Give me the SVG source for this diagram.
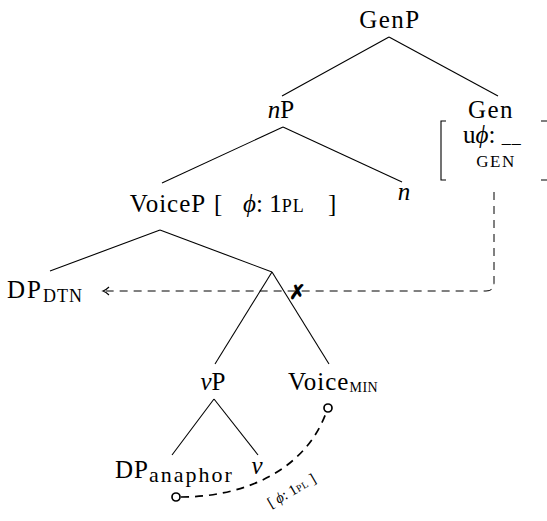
<svg xmlns="http://www.w3.org/2000/svg" width="547" height="521" viewBox="0 0 547 521">
<style>
  text { font-family: "Liberation Serif", "DejaVu Serif", serif; fill: #000; }
  .lbl { font-size: 25px; }
  .it { font-style: italic; }
  .edge { stroke: #000; stroke-width: 1.1; fill: none; }
  .dash { stroke: #000; stroke-width: 1; fill: none; stroke-dasharray: 8 6; }
  .dashb { stroke: #000; stroke-width: 1.7; fill: none; stroke-dasharray: 8 6; }
  .brk { stroke: #000; stroke-width: 1.1; fill: none; }
</style>
<rect width="547" height="521" fill="#fff"/>

<g id="edges">
  <line class="edge" x1="389" y1="37" x2="282" y2="96"/>
  <line class="edge" x1="389" y1="37" x2="498" y2="96"/>
  <line class="edge" x1="283" y1="127" x2="162" y2="183"/>
  <line class="edge" x1="283" y1="127" x2="402" y2="182"/>
  <line class="edge" x1="160" y1="230" x2="50" y2="271"/>
  <line class="edge" x1="160" y1="230" x2="272" y2="272"/>
  <line class="edge" x1="272" y1="272" x2="215" y2="364"/>
  <line class="edge" x1="272" y1="272" x2="329" y2="364"/>
  <line class="edge" x1="214" y1="399" x2="172" y2="455"/>
  <line class="edge" x1="214" y1="399" x2="258" y2="455"/>
  <path class="dash" d="M494 192 V283 Q494 291 486 291 H106"/>
  <path class="edge" d="M109 287 Q106 290 103 291 Q106 292 109 295"/>
  <path class="dashb" d="M181 497 C245 497 305 470 326 413"/>
  <circle cx="176" cy="497" r="4" fill="#fff" stroke="#000" stroke-width="1.7"/>
  <circle cx="328" cy="408" r="4" fill="#fff" stroke="#000" stroke-width="1.7"/>
</g>

<g id="GenP"><text class="lbl" x="390" y="28" text-anchor="middle" letter-spacing="1.5">GenP</text></g>
<g id="nP"><text class="lbl" x="281" y="118" text-anchor="middle"><tspan class="it">n</tspan>P</text></g>
<g id="Gen">
  <text class="lbl" x="491" y="118" text-anchor="middle" letter-spacing="1.5">Gen</text>
  <text class="lbl" x="463" y="143" font-size="23">u<tspan class="it">ϕ</tspan>: <tspan font-size="18">_</tspan><tspan font-size="18" dx="1">_</tspan></text>
  <text x="496" y="167" text-anchor="middle" font-size="17" letter-spacing="1.5">GEN</text>
  <path class="brk" d="M446 121 H441 V180 H446"/>
  <path class="brk" d="M541 121 H547 M541 180 H547"/>
</g>
<g id="n"><text class="lbl it" x="404" y="200" text-anchor="middle">n</text></g>
<g id="VoiceP">
  <text class="lbl" x="168" y="212" text-anchor="middle" letter-spacing="1">VoiceP</text>
  <text class="lbl" x="214" y="212" font-size="26">[</text>
  <text class="lbl" x="243" y="212"><tspan class="it">ϕ</tspan>: 1<tspan font-size="18" letter-spacing="1">PL</tspan></text>
  <text class="lbl" x="328" y="212" font-size="26">]</text>
</g>
<g id="DP_DTN">
  <text class="lbl" x="7" y="298" letter-spacing="2">DP<tspan font-size="18" dy="4" letter-spacing="1">DTN</tspan></text>
</g>
<g id="cross"><text x="297" y="299" text-anchor="middle" font-size="20" font-family="DejaVu Sans, sans-serif" font-weight="bold">✗</text></g>
<g id="vP"><text class="lbl" x="213" y="390" text-anchor="middle"><tspan class="it">v</tspan>P</text></g>
<g id="VoiceMIN">
  <text class="lbl" x="288" y="390" letter-spacing="1">Voice<tspan font-size="14" dy="2" letter-spacing="0.5">MIN</tspan></text>
</g>
<g id="DPanaphor">
  <text class="lbl" x="115" y="478" letter-spacing="1">DP<tspan font-size="22" dy="4" letter-spacing="2">anaphor</tspan></text>
</g>
<g id="v"><text class="lbl it" x="257" y="474" text-anchor="middle">v</text></g>
<g id="feat">
  <text x="294" y="495" text-anchor="middle" font-size="15" transform="rotate(-30 294 495)">[    <tspan font-style="italic">ϕ</tspan>: 1<tspan font-size="10" letter-spacing="0.5">PL</tspan>    ]</text>
</g>
</svg>
